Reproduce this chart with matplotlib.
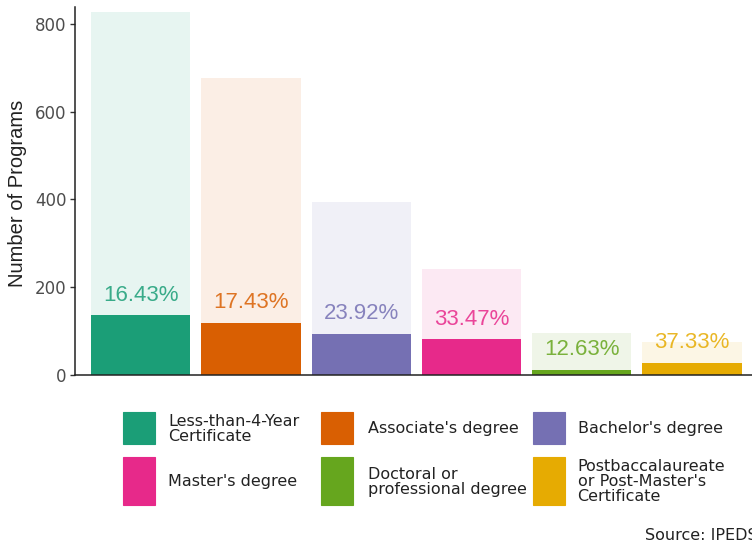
import matplotlib
matplotlib.use("Agg")
import matplotlib.pyplot as plt
from matplotlib.patches import Rectangle

# ---- data ----
categories = ["Less-than-4-Year\nCertificate", "Associate's degree", "Bachelor's degree",
              "Master's degree", "Doctoral or\nprofessional degree",
              "Postbaccalaureate\nor Post-Master's\nCertificate"]
totals = [828, 677, 393, 242, 95, 75]
counts = [136, 118, 94, 81, 12, 28]
colors = ["#1B9E77", "#D95F02", "#7570B3", "#E7298A", "#66A61E", "#E6AB02"]
yticks = [0, 200, 400, 600, 800]
source = "Source: IPEDS"

W, H = 752, 546
fig = plt.figure(figsize=(W / 100, H / 100), dpi=100)

# axes placement in pixels
left_px, top_px, bottom_px = 74.5, 6.7, 375.0
right_px = 758.2
ax = fig.add_axes([left_px / W, 1 - bottom_px / H, (right_px - left_px) / W,
                   (bottom_px - top_px) / H])

x = list(range(len(categories)))
ax.bar(x, totals, width=0.9, color=colors, alpha=0.1, linewidth=0)
ax.bar(x, counts, width=0.9, color=colors, linewidth=0)

for xi, c, t, col in zip(x, counts, totals, colors):
    ax.annotate(f"{c / t * 100:.2f}%", xy=(xi, c), xytext=(0, 10.6),
                textcoords="offset points", ha="center", va="baseline",
                fontsize=16, family="Liberation Sans", color=col, alpha=0.85)

ax.set_xlim(-0.6, 5.6)
ax.set_ylim(0, 839)
ax.set_xticks([])
ax.set_yticks(yticks)
ax.tick_params(axis="y", length=3.5, width=1, color="#333333", labelsize=12,
               labelcolor="#4D4D4D", pad=2)
for lbl in ax.get_yticklabels():
    lbl.set_family("DejaVu Sans")
for s in ["top", "right"]:
    ax.spines[s].set_visible(False)
for s in ["left", "bottom"]:
    ax.spines[s].set_color("#222222")
    ax.spines[s].set_linewidth(1.1)

ax.set_ylabel("Number of Programs", fontsize=14.5, family="Liberation Sans",
              color="#222222", va="center")
ax.yaxis.set_label_coords((18 - left_px) / (right_px - left_px),
                          (bottom_px - 193) / (bottom_px - top_px))

# ---- legend (drawn in pixel space) ----
lax = fig.add_axes([0, 0, 1, 1])
lax.set_xlim(0, W)
lax.set_ylim(H, 0)
lax.axis("off")
sw_x = [122.5, 320.5, 532.5]
tx_x = [168.5, 368.5, 577.5]
rows = [(412.3, 444.3), (457.3, 505.3)]
for i, (cat, col) in enumerate(zip(categories, colors)):
    r, cidx = divmod(i, 3)
    y0, y1 = rows[r]
    lax.add_patch(Rectangle((sw_x[cidx], y0), 32.5, y1 - y0, facecolor=col,
                            edgecolor=col, linewidth=0.8, alpha=1))
    lax.text(tx_x[cidx], (y0 + y1) / 2 + 0.5, cat, ha="left", va="center",
             fontsize=11.5, family="DejaVu Sans", color="#222222",
             linespacing=1.0)

fig.text(645 / W, 1 - 540 / H, source, ha="left", va="baseline",
         fontsize=11.5, family="DejaVu Sans", color="#222222")

fig.savefig("out.png", dpi=100)
